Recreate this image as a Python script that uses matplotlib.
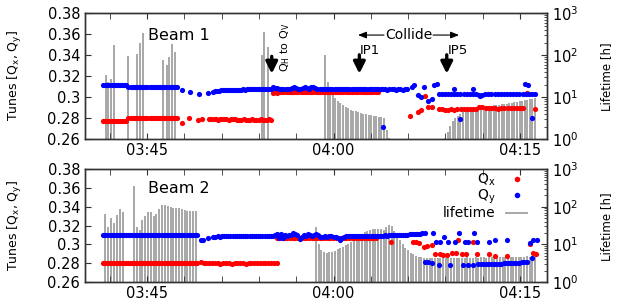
import numpy as np
import matplotlib.pyplot as plt
from matplotlib.lines import Line2D

plt.rcParams['font.family'] = ['DejaVu Sans']
plt.rcParams['mathtext.default'] = 'regular'

# time axis in minutes after 03:40
tick_pos = [5, 20, 35]
tick_labels = ['03:45', '04:00', '04:15']
minor_pos = [2, 5, 8, 11, 14, 17, 20, 23, 26, 29, 32, 35]
tune_ticks = [0.26, 0.28, 0.30, 0.32, 0.34, 0.36, 0.38]
tune_labels = ['0.26', '0.28', '0.3', '0.32', '0.34', '0.36', '0.38']

# ---------------- Beam 1 ----------------
# dense runs: (start, end, values) sampled evenly in time
b1_qy_runs = [
    (1.45, 7.40, [0.3120, 0.3121, 0.3119, 0.3120, 0.3121, 0.3120, 0.3119, 0.3120, 0.3121, 0.3120, 0.3119, 0.3118,
                  0.3098, 0.3097, 0.3096, 0.3097, 0.3098, 0.3097, 0.3097, 0.3096, 0.3097, 0.3098, 0.3097, 0.3096,
                  0.3097, 0.3098, 0.3097, 0.3097, 0.3096, 0.3097, 0.3098, 0.3097, 0.3096, 0.3097, 0.3098, 0.3097]),
    (10.30, 15.00, [0.3053, 0.3058, 0.3062, 0.3064, 0.3066, 0.3068, 0.3069, 0.3070, 0.3068, 0.3071,
                    0.3072, 0.3071, 0.3073, 0.3074, 0.3072, 0.3075, 0.3074, 0.3076, 0.3075, 0.3077,
                    0.3076, 0.3078, 0.3077, 0.3076, 0.3078, 0.3079, 0.3077, 0.3079, 0.3080, 0.3079]),
    (15.10, 23.50, [0.3095, 0.3090, 0.3084, 0.3082, 0.3080, 0.3079, 0.3081, 0.3080, 0.3082, 0.3086,
                    0.3098, 0.3093, 0.3083, 0.3081, 0.3088, 0.3095, 0.3086, 0.3082, 0.3094, 0.3098,
                    0.3088, 0.3082, 0.3080, 0.3081, 0.3079, 0.3080, 0.3082, 0.3081, 0.3079, 0.3078,
                    0.3080, 0.3081, 0.3079, 0.3080, 0.3082, 0.3080, 0.3078, 0.3079, 0.3081, 0.3080,
                    0.3079, 0.3078, 0.3080, 0.3081, 0.3079, 0.3080, 0.3078, 0.3079, 0.3080, 0.3079]),
    (23.60, 25.90, [0.3077, 0.3076, 0.3075, 0.3076, 0.3074, 0.3075, 0.3076, 0.3075, 0.3074, 0.3075,
                    0.3076, 0.3074, 0.3075, 0.3076]),
    (28.45, 36.20, [0.3031, 0.3030, 0.3029, 0.3031, 0.3032, 0.3028, 0.3030, 0.3031, 0.3029, 0.3027,
                    0.3030, 0.3032, 0.3031, 0.3018, 0.3024, 0.3029, 0.3031, 0.3030, 0.3028, 0.3031,
                    0.3033, 0.3030, 0.3029, 0.3031, 0.3030, 0.3028, 0.3031, 0.3030, 0.3032, 0.3029,
                    0.3030, 0.3031]),
]
b1_qy_t = [7.80, 8.45, 9.17, 9.90, 24.00, 26.28, 26.47, 26.81, 27.03, 27.30, 27.62, 27.89, 28.08, 28.29,
           29.69, 30.17, 31.24, 31.78, 35.40, 35.66, 35.94]
b1_qy = [0.3070, 0.3055, 0.3032, 0.3038, 0.2720, 0.3095, 0.3117, 0.3022, 0.3000, 0.3095, 0.2968, 0.2981,
         0.3117, 0.3127, 0.3079, 0.2790, 0.3079, 0.3012, 0.3127, 0.3117, 0.2800]

b1_qx_runs = [
    (1.45, 7.40, [0.2776, 0.2775, 0.2777, 0.2776, 0.2775, 0.2776, 0.2777, 0.2776, 0.2775, 0.2776, 0.2777, 0.2776,
                  0.2800, 0.2801, 0.2799, 0.2800, 0.2801, 0.2800, 0.2799, 0.2800, 0.2801, 0.2800, 0.2799, 0.2800,
                  0.2801, 0.2800, 0.2800, 0.2799, 0.2800, 0.2801, 0.2800, 0.2799, 0.2800, 0.2801, 0.2800, 0.2800]),
    (10.00, 15.00, [0.2790, 0.2791, 0.2789, 0.2790, 0.2788, 0.2789, 0.2790, 0.2791, 0.2789, 0.2788,
                    0.2789, 0.2790, 0.2789, 0.2788, 0.2787, 0.2788, 0.2789, 0.2788, 0.2787, 0.2788,
                    0.2789, 0.2788, 0.2787, 0.2788, 0.2789, 0.2788, 0.2787, 0.2788, 0.2789, 0.2788]),
    (15.10, 23.55, [0.3044, 0.3046, 0.3045, 0.3047, 0.3046, 0.3048, 0.3047, 0.3049, 0.3048, 0.3050,
                    0.3049, 0.3051, 0.3050, 0.3049, 0.3051, 0.3050, 0.3052, 0.3051, 0.3050, 0.3052,
                    0.3051, 0.3053, 0.3052, 0.3051, 0.3053, 0.3052, 0.3051, 0.3053, 0.3052, 0.3054,
                    0.3053, 0.3052, 0.3054, 0.3053, 0.3052, 0.3054, 0.3053, 0.3052, 0.3054, 0.3053,
                    0.3054, 0.3053, 0.3052, 0.3054, 0.3053, 0.3054, 0.3053, 0.3052, 0.3054, 0.3053]),
    (28.45, 35.25, [0.2886, 0.2884, 0.2883, 0.2882, 0.2884, 0.2880, 0.2887, 0.2893, 0.2888, 0.2886,
                    0.2889, 0.2891, 0.2890, 0.2903, 0.2910, 0.2900, 0.2896, 0.2894, 0.2895, 0.2893,
                    0.2896, 0.2895, 0.2894, 0.2896, 0.2897, 0.2895, 0.2896, 0.2894]),
]
b1_qx_t = [7.80, 8.39, 9.12, 9.38, 26.15, 26.77, 27.03, 27.35, 27.62, 27.89, 35.53, 36.20]
b1_qx = [0.2758, 0.2800, 0.2784, 0.2790, 0.2822, 0.2863, 0.2879, 0.3012, 0.2905, 0.2905, 0.3044, 0.2891]

b1_lt_t = [1.66, 1.87, 2.09, 2.36, 3.48, 4.16, 4.42, 4.69, 6.30, 6.57, 6.78, 7.02, 7.24, 14.22, 14.43, 14.70]
b1_lt = [34, 23, 28, 177, 98, 106, 193, 344, 78, 59, 93, 186, 118, 101, 365, 155]
b1_lt_runs = [
    (19.31, 24.46, [102, 23, 16, 12, 9.7, 8.3, 7.3, 6.6, 6.0, 5.5, 5.1, 4.8, 4.6, 4.4, 4.2, 4.0,
                    3.9, 3.8, 3.7, 3.6, 3.5, 3.45, 3.4, 3.3, 1.7, 1.07]),
    (28.96, 36.20, [1.1, 1.5, 2.1, 2.7, 3.2, 3.6, 4.0, 4.4, 4.7, 4.9, 5.1, 5.3, 5.5, 5.6, 5.8, 5.9,
                    6.0, 6.1, 6.2, 6.4, 6.5, 6.7, 6.8, 6.9, 7.1, 7.2, 7.4, 7.6, 7.8, 8.0, 8.3, 8.5,
                    8.7, 9.0, 9.3, 9.7]),
]

# ---------------- Beam 2 ----------------
b2_qy_runs = [
    (1.47, 9.00, [0.3102, 0.3101, 0.3102, 0.3103, 0.3102, 0.3101, 0.3102, 0.3102, 0.3103, 0.3102,
                  0.3101, 0.3102, 0.3102, 0.3103, 0.3102, 0.3101, 0.3102, 0.3102, 0.3103, 0.3102,
                  0.3101, 0.3102, 0.3102, 0.3103, 0.3102, 0.3101, 0.3102, 0.3102, 0.3103, 0.3102,
                  0.3101, 0.3102, 0.3102, 0.3103, 0.3102, 0.3101, 0.3102, 0.3102, 0.3103, 0.3102,
                  0.3101, 0.3102, 0.3102, 0.3103, 0.3102, 0.3101]),
    (10.32, 15.30, [0.3083, 0.3083, 0.3084, 0.3083, 0.3085, 0.3084, 0.3085, 0.3086, 0.3085, 0.3086,
                    0.3087, 0.3086, 0.3087, 0.3088, 0.3087, 0.3088, 0.3089, 0.3088, 0.3089, 0.3090,
                    0.3089, 0.3090, 0.3091, 0.3090, 0.3091, 0.3092, 0.3091, 0.3092, 0.3093, 0.3094]),
    (15.45, 18.90, [0.3110, 0.3066, 0.3110, 0.3066, 0.3094, 0.3092, 0.3095, 0.3100, 0.3120, 0.3110,
                    0.3094, 0.3057, 0.3080, 0.3094, 0.3092, 0.3108, 0.3096, 0.3090, 0.3094, 0.3106,
                    0.3094, 0.3083]),
    (19.00, 27.10, [0.3083, 0.3082, 0.3084, 0.3083, 0.3085, 0.3084, 0.3083, 0.3080, 0.3065, 0.3048,
                    0.3070, 0.3083, 0.3085, 0.3086, 0.3084, 0.3087, 0.3086, 0.3088, 0.3087, 0.3089,
                    0.3088, 0.3090, 0.3089, 0.3091, 0.3090, 0.3089, 0.3091, 0.3092, 0.3091, 0.3093,
                    0.3092, 0.3094, 0.3093, 0.3095, 0.3096, 0.3095, 0.3097, 0.3098, 0.3097, 0.3099,
                    0.3100, 0.3102, 0.3103, 0.3105, 0.3106, 0.3108, 0.3110, 0.3112, 0.3115, 0.3118]),
    (31.64, 35.53, [0.2790, 0.2791, 0.2790, 0.2792, 0.2791, 0.2793, 0.2794, 0.2793, 0.2795, 0.2796,
                    0.2797, 0.2798, 0.2800, 0.2801, 0.2803, 0.2805, 0.2807, 0.2809, 0.2812, 0.2815]),
]
b2_qy_t = [9.31, 9.52, 9.92,
           27.35, 28.02, 28.24, 28.56, 28.88, 29.23, 29.77, 30.11, 30.57, 30.84, 31.30, 31.51,
           32.53, 32.98, 33.97, 35.80, 36.07, 36.39,
           27.35, 27.62, 27.89, 28.50, 29.37, 30.37, 30.84, 31.24, 35.94]
b2_qy = [0.3048, 0.3048, 0.3066,
         0.3120, 0.3120, 0.3030, 0.3030, 0.3077, 0.3030, 0.3030, 0.3120, 0.3030, 0.3030, 0.3120, 0.3030,
         0.3030, 0.3041, 0.3048, 0.3019, 0.3041, 0.3048,
         0.2817, 0.2810, 0.2800, 0.2781, 0.2781, 0.2781, 0.2783, 0.2784, 0.2850]

b2_qx_runs = [
    (1.45, 9.00, [0.2806, 0.2805, 0.2806, 0.2807, 0.2806, 0.2805, 0.2806, 0.2806, 0.2807, 0.2806,
                  0.2805, 0.2806, 0.2806, 0.2807, 0.2806, 0.2805, 0.2806, 0.2806, 0.2807, 0.2806,
                  0.2805, 0.2806, 0.2806, 0.2807, 0.2806, 0.2805, 0.2806, 0.2806, 0.2807, 0.2806,
                  0.2805, 0.2806, 0.2806, 0.2807, 0.2806, 0.2805, 0.2806, 0.2806, 0.2807, 0.2806,
                  0.2805, 0.2806, 0.2806, 0.2807, 0.2806, 0.2805]),
    (9.31, 15.42, [0.2809, 0.2803, 0.2800, 0.2798, 0.2797, 0.2799, 0.2798, 0.2796, 0.2798, 0.2799,
                   0.2797, 0.2796, 0.2798, 0.2797, 0.2799, 0.2798, 0.2796, 0.2797, 0.2798, 0.2799,
                   0.2797, 0.2798, 0.2799, 0.2798, 0.2797, 0.2798, 0.2799, 0.2798]),
    (15.42, 23.40, [0.3066, 0.3064, 0.3066, 0.3065, 0.3067, 0.3066, 0.3064, 0.3066, 0.3067, 0.3065,
                    0.3066, 0.3064, 0.3066, 0.3065, 0.3067, 0.3066, 0.3065, 0.3066, 0.3067, 0.3065,
                    0.3066, 0.3064, 0.3066, 0.3065, 0.3067, 0.3066, 0.3065, 0.3066, 0.3067, 0.3065,
                    0.3066, 0.3064, 0.3066, 0.3065, 0.3067, 0.3066, 0.3065, 0.3066]),
]
b2_qx_t = [24.62, 26.35, 26.62, 26.90, 27.27, 27.54, 27.89, 28.16, 28.56, 28.83, 29.10, 29.50, 29.85,
           30.03, 30.31, 30.65, 31.24, 31.51, 32.53, 32.98, 33.93, 35.80, 36.07, 36.28]
b2_qx = [0.3024, 0.3022, 0.3022, 0.3019, 0.2977, 0.2980, 0.2993, 0.2897, 0.2894, 0.2887, 0.2890, 0.2905,
         0.2905, 0.3046, 0.2894, 0.2894, 0.3028, 0.2894, 0.2894, 0.2880, 0.2880, 0.3003, 0.2910, 0.2894]

b2_lt_t = []
b2_lt = []
b2_lt_runs = [
    (1.64, 3.03, [63, 29, 51, 37, 60, 85, 71]),
    (3.94, 8.91, [360, 28, 24, 44, 57, 71, 71, 58, 63, 85, 110, 112, 105, 100, 95, 91, 95, 87, 82,
                  78, 76, 76, 76]),
    (18.58, 36.20, [29, 10, 7.1, 6.3, 6.0, 6.1, 6.4, 6.8, 7.3, 7.9,
                    8.6, 9.4, 10.3, 11.3, 12.6, 14, 16.5, 19, 21, 23,
                    24, 25, 26, 26, 25, 24, 29, 33, 30, 22,
                    17, 13, 10, 8.2, 6.9, 6.0, 5.4, 5.0, 4.7, 4.5,
                    4.4, 4.3, 4.3, 4.4, 4.3, 4.3, 4.4, 4.3, 4.4, 4.4,
                    4.3, 4.4, 4.4, 4.3, 4.4, 4.4, 4.5, 4.4, 4.4, 4.5,
                    4.4, 4.5, 4.5, 4.4, 4.5, 4.5, 4.6, 4.5, 4.5, 4.6,
                    4.6, 4.5, 4.6, 4.6, 4.7, 4.6, 4.7, 4.7, 4.8, 4.7,
                    4.8, 4.9]),
]

RED = '#ff0000'
BLUE = '#0000ff'
GRAY = '#a0a0a0'
FRAME = '#333333'


def collect(runs, t_extra, v_extra):
    # join evenly sampled runs with the single points
    t = [np.linspace(a, b, len(v)) for a, b, v in runs]
    v = [np.asarray(v, dtype=float) for a, b, v in runs]
    t.append(np.asarray(t_extra, dtype=float))
    v.append(np.asarray(v_extra, dtype=float))
    return np.concatenate(t), np.concatenate(v)


def draw_beam(ax, qx, qy, lt, title):
    ax2 = ax.twinx()
    lt_t, lt_v = lt
    ax2.vlines(lt_t, 1, lt_v, color=GRAY, lw=1.3)
    ax2.set_yscale('log')
    ax2.set_ylim(1, 1000)
    ax2.tick_params(which='both', direction='in', labelsize=10.5, colors=FRAME, labelcolor='black')
    ax2.tick_params(which='major', length=4)
    ax2.tick_params(which='minor', length=2)

    ax.set_zorder(ax2.get_zorder() + 1)
    ax.patch.set_visible(False)
    ax.scatter(qx[0], qx[1], s=14, color=RED, linewidths=0, zorder=3)
    ax.scatter(qy[0], qy[1], s=14, color=BLUE, linewidths=0, zorder=4)

    ax.set_xlim(0, 37.17)
    ax.set_ylim(0.26, 0.38)
    ax.set_yticks(tune_ticks)
    ax.set_yticklabels(tune_labels)
    ax.set_xticks(tick_pos)
    ax.set_xticklabels(tick_labels)
    ax.set_xticks(minor_pos, minor=True)
    ax.tick_params(which='both', direction='in', top=True, length=4, labelsize=10.5,
                   colors=FRAME, labelcolor='black')
    ax.tick_params(axis='x', pad=3)
    for a in (ax, ax2):
        for sp in a.spines.values():
            sp.set_color(FRAME)
            sp.set_linewidth(1.0)
    ax.text(5.07, 0.3593, title, fontsize=11.5, ha='left', va='center')
    return ax2


fig = plt.figure(figsize=(6.28, 3.02), dpi=100)
ax_top = fig.add_axes([0.1354, 0.5387, 0.7357, 0.4172])
ax_bot = fig.add_axes([0.1354, 0.0662, 0.7357, 0.3742])

draw_beam(ax_top, collect(b1_qx_runs, b1_qx_t, b1_qx), collect(b1_qy_runs, b1_qy_t, b1_qy),
          collect(b1_lt_runs, b1_lt_t, b1_lt), 'Beam 1')
draw_beam(ax_bot, collect(b2_qx_runs, b2_qx_t, b2_qx), collect(b2_qy_runs, b2_qy_t, b2_qy),
          collect(b2_lt_runs, b2_lt_t, b2_lt), 'Beam 2')

# annotations on beam 1
fat = dict(arrowstyle='-|>,head_width=0.35,head_length=0.7', lw=2.4, color='black',
           shrinkA=0, shrinkB=0, mutation_scale=10)
ax_top.annotate('', xy=(15.02, 0.3225), xytext=(15.02, 0.3390), arrowprops=fat)
ax_top.text(16.1, 0.348, 'Q$_H$ to Q$_V$', rotation=90, fontsize=8, ha='center', va='center')
ax_top.annotate('', xy=(22.07, 0.3225), xytext=(22.07, 0.3405), arrowprops=fat)
ax_top.text(22.1, 0.3448, 'IP1', fontsize=9.5, ha='left', va='center')
ax_top.annotate('', xy=(29.10, 0.3225), xytext=(29.10, 0.3405), arrowprops=fat)
ax_top.text(29.15, 0.3448, 'IP5', fontsize=9.5, ha='left', va='center')
thin = dict(arrowstyle='-|>,head_width=0.2,head_length=0.5', lw=0.8, color='black',
            shrinkA=0, shrinkB=0, mutation_scale=10)
ax_top.annotate('', xy=(21.96, 0.3593), xytext=(24.05, 0.3593), arrowprops=thin)
ax_top.annotate('', xy=(30.09, 0.3593), xytext=(28.0, 0.3593), arrowprops=thin)
ax_top.text(26.03, 0.3593, 'Collide', fontsize=10, ha='center', va='center')

# legend on beam 2
handles = [Line2D([], [], ls='none', marker='o', ms=4, color=RED, mec='none'),
           Line2D([], [], ls='none', marker='o', ms=4, color=BLUE, mec='none'),
           Line2D([], [], color=GRAY, lw=1.3)]
ax_bot.legend(handles, ['Q$_x$', 'Q$_y$', 'lifetime'], loc='upper right', bbox_to_anchor=(0.975, 1.05),
              frameon=False, markerfirst=False, fontsize=10, handlelength=1.5,
              labelspacing=0.0, borderpad=0.1, handletextpad=0.8)

# axis titles
for yc in (0.75, 0.255):
    fig.text(0.024, yc, 'Tunes [Q$_x$, Q$_y$]', rotation=90, fontsize=9, ha='center', va='center')
for yc in (0.745, 0.248):
    fig.text(0.966, yc, 'Lifetime [h]', rotation=90, fontsize=8.5, ha='center', va='center')

fig.savefig('out.png', dpi=100)
